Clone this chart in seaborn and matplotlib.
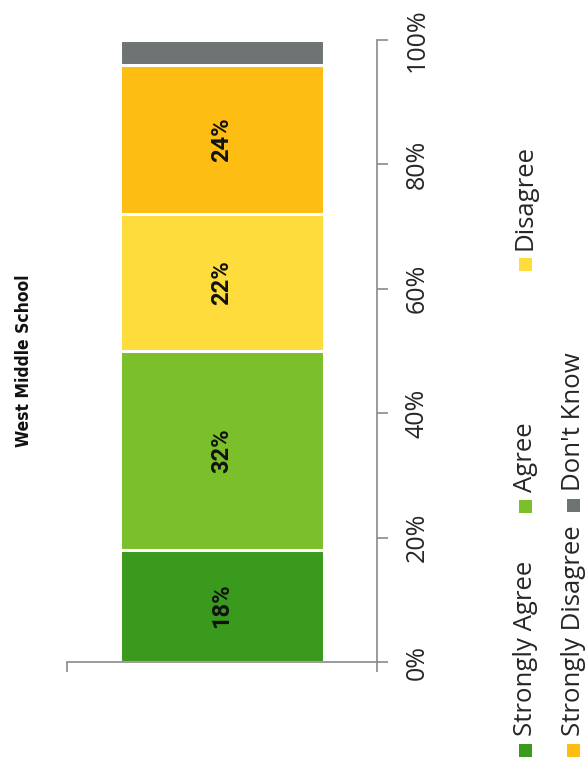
import matplotlib
matplotlib.use("Agg")
import matplotlib.pyplot as plt
from matplotlib.patches import Rectangle
import seaborn as sns
import pandas as pd
import numpy as np

# ---- data ----
school = ["West Middle School"]
categories = ["Strongly Agree", "Agree", "Disagree", "Strongly Disagree", "Don't Know"]
values = [18, 32, 22, 24, 4]
colors = ["#3a9a1d", "#7bbf2a", "#fedc3c", "#fdbd12", "#6e7373"]
tick_vals = [0, 20, 40, 60, 80, 100]
tick_labels = ["0%", "20%", "40%", "60%", "80%", "100%"]

sns.set_theme(style="white")
plt.rcParams["font.family"] = ["Open Sans", "DejaVu Sans"]

W, H = 586, 768
fig = plt.figure(figsize=(W / 100, H / 100), dpi=100)
ax = fig.add_axes([67 / W, 1 - 662 / H, (377 - 67) / W, (662 - 40) / H])

cum = np.cumsum(values)
df = pd.DataFrame({"school": school * len(categories),
                   "category": categories,
                   "top": cum,
                   "value": values})

# draw stacked bars from the tallest cumulative layer down
for i in range(len(categories) - 1, -1, -1):
    sub = df.iloc[[i]]
    sns.barplot(data=sub, x="school", y="top", color=colors[i], width=0.658,
                edgecolor="white", linewidth=2.2, saturation=1, ax=ax)

# data labels
for i, (c, v) in enumerate(zip(cum, values)):
    if v >= 10:
        ax.text(0, c - v / 2, f"{v}%", rotation=90, ha="center", va="center",
                fontsize=17, fontweight="bold", color="#111111",
                family=["Roboto", "DejaVu Sans"])

ax.set_xlim(-0.5, 0.5)
ax.set_ylim(0, 100)
ax.set_xlabel("")
ax.set_ylabel("")
ax.set_xticks([-0.5, 0.5])
ax.set_xticklabels(["", ""])
ax.yaxis.tick_right()
ax.set_yticks(tick_vals)
ax.set_yticklabels(tick_labels, rotation=90, va="center", fontsize=18, color="#262626")
ax.tick_params(axis="y", direction="out", length=8, width=1.2, color="#8a8a8a", pad=12, right=True)
ax.tick_params(axis="x", direction="out", length=7, width=1.2, color="#8a8a8a", bottom=True)
for s in ["left", "top"]:
    ax.spines[s].set_visible(False)
for s in ["right", "bottom"]:
    ax.spines[s].set_visible(True)
    ax.spines[s].set_color("#8a8a8a")
    ax.spines[s].set_linewidth(1.2)

# title (rotated)
fig.text(24 / W, 1 - 361 / H, "West Middle School", rotation=90, ha="center", va="center",
         fontsize=12.5, fontweight="bold", fontstretch="condensed", color="#111111",
         family=["DejaVu Sans"])

# legend (rotated)
leg_pos = [(525, 750), (525, 506), (525, 264), (573, 750), (573, 505)]
for (cx, cy), lab, col in zip(leg_pos, categories, colors):
    s = 13
    fig.add_artist(Rectangle(((cx - s / 2) / W, 1 - (cy + s / 2) / H), s / W, s / H,
                             transform=fig.transFigure, color=col, lw=0))
    fig.text(cx / W, 1 - (cy - 14) / H, lab, rotation=90, ha="center", va="bottom",
             fontsize=18.5, color="#262626")

fig.savefig("out.png", dpi=100)
